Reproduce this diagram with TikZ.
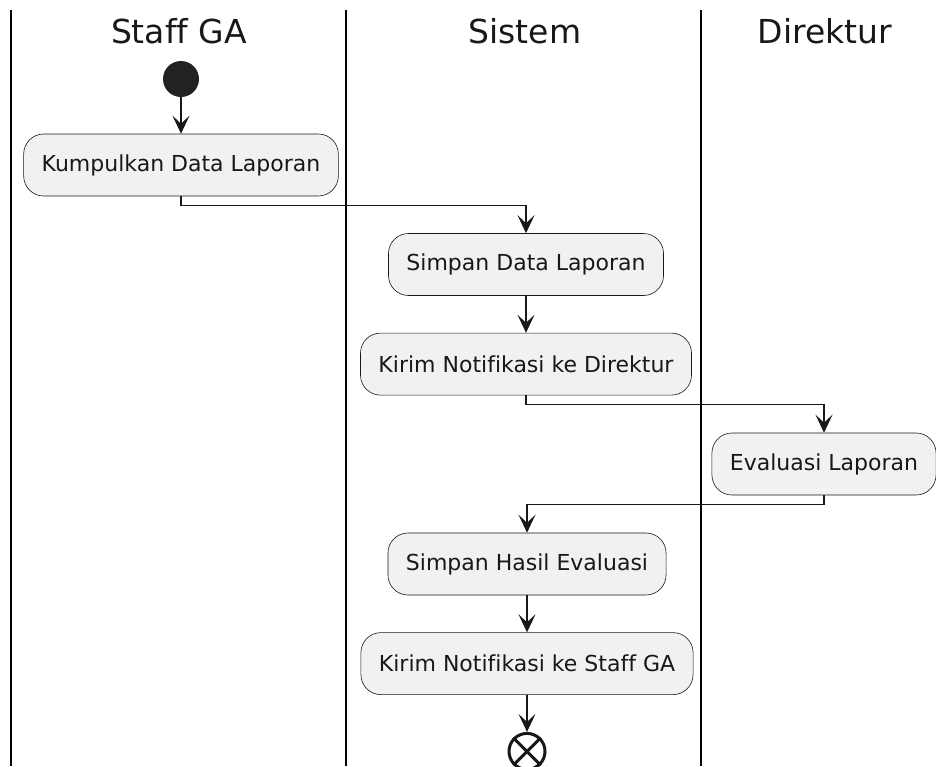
\documentclass[tikz,border=0pt]{standalone}
\usepackage{fontspec}
\setmainfont[Ligatures={NoCommon}]{DejaVu Sans}
\usepackage{xcolor}
\usetikzlibrary{arrows.meta,positioning}
\definecolor{actfill}{HTML}{F1F1F1}
\definecolor{umlline}{HTML}{181818}
\definecolor{startdot}{HTML}{222222}

\begin{document}
\begin{tikzpicture}[x=1pt, y=-1pt, node distance=37pt, auto]
    \tikzstyle{activity} = [rectangle, draw=umlline, line width=0.6pt, fill=actfill, rounded corners=20pt, minimum height=62pt, inner xsep=18pt, text=umlline, font=\fontsize{22}{26}\selectfont]
    \tikzstyle{arrow} = [line width=1.5pt, draw=umlline, -{Stealth[length=18pt,width=17pt,inset=8pt]}]
    \tikzstyle{lane} = [line width=2pt, draw=black]
    \tikzstyle{lanetitle} = [anchor=base, text=umlline, font=\fontsize{33}{38}\selectfont]

    \useasboundingbox (0,0) rectangle (936,766);

    % swimlanes
    \draw [lane] (11,10) -- (11,766);
    \draw [lane] (346,10) -- (346,766);
    \draw [lane] (701,10) -- (701,766);
    \node [lanetitle] (laneStaff) at (179,43) {Staff GA};
    \node [lanetitle] (laneSistem) at (525,43) {Sistem};
    \node [lanetitle] (laneDirektur) at (825,43) {Direktur};

    \node [circle, fill=startdot, minimum size=36pt, inner sep=0pt] (start) at (181,79) {};
    \node [activity] (kumpul) at (181,165) {Kumpulkan Data Laporan};
    \node [activity] (simpanData) at (526,264.5) {Simpan Data Laporan};
    \node [activity, below=of simpanData] (kirimDir) {Kirim Notifikasi ke Direktur};
    \node [activity] (evaluasi) at (824,464) {Evaluasi Laporan};
    \node [activity] (simpanHasil) at (527,564) {Simpan Hasil Evaluasi};
    \node [activity, below=of simpanHasil] (kirimStaff) {Kirim Notifikasi ke Staff GA};
    \node [circle, draw=umlline, line width=3pt, minimum size=36pt, inner sep=0pt, below=of kirimStaff] (stop) {};
    \draw [line width=3pt, draw=umlline] (stop.45) -- (stop.225) (stop.135) -- (stop.315);

    \draw [arrow] (start) -- (kumpul);
    \draw [arrow] (kumpul.south) -- ++(0,9) -| (simpanData);
    \draw [arrow] (simpanData) -- (kirimDir);
    \draw [arrow] (kirimDir.south) -- ++(0,9) -| (evaluasi);
    \draw [arrow] (evaluasi.south) -- ++(0,9) -| (simpanHasil);
    \draw [arrow] (simpanHasil) -- (kirimStaff);
    \draw [arrow] (kirimStaff) -- (stop);
\end{tikzpicture}
\end{document}
